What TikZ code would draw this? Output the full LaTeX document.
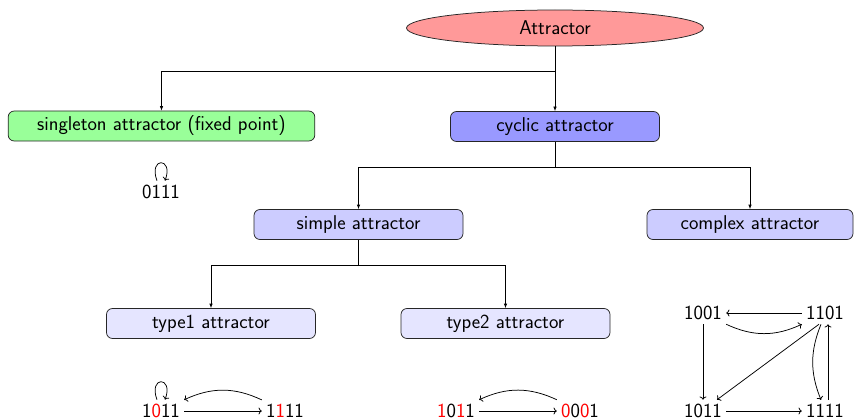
\documentclass[tikz,border=0pt]{standalone}
\usepackage{fontspec}
\usetikzlibrary{arrows.meta,shapes.geometric}
\begin{document}
\begin{tikzpicture}[x=1pt,y=1pt,
  font=\sffamily\fontsize{20}{24}\selectfont,
  line width=0.75pt,
  box/.style={draw=black!85, rounded corners=6pt, minimum height=30pt,
    minimum width=209pt, inner xsep=29pt, inner ysep=0pt},
  tree/.style={-{Latex[length=4.5pt,width=3.5pt]}},
  num/.style={inner sep=4pt},
  edge/.style={->},
]
\useasboundingbox (0,0) rectangle (855,-420);

% hierarchy of attractor kinds
\node[ellipse, draw=black!85, fill=red!40, minimum width=297pt,
      minimum height=36pt, inner sep=0pt] (attr) at (555,-28) {Attractor};
\node[box, fill=green!40] (single) at (161.5,-126) {singleton attractor (fixed point)};
\node[box, fill=blue!40] (cyc) at (555,-126.5) {cyclic attractor};
\node[box, fill=blue!20] (simple) at (358.5,-224.5) {simple attractor};
\node[box, fill=blue!20, minimum width=206pt] (complex) at (750,-224.5) {complex attractor};
\node[box, fill=blue!10] (type1) at (211,-323.5) {type1 attractor};
\node[box, fill=blue!10] (type2) at (505.5,-323.5) {type2 attractor};

\coordinate (j1) at (555,-71);
\coordinate (j2) at (555,-167);
\coordinate (j3) at (358.5,-265);

\draw (attr.south) -- (j1);
\draw[tree] (j1) -| (single.north);
\draw[tree] (j1) -- (cyc.north);
\draw (cyc.south) -- (j2);
\draw[tree] (j2) -| (simple.north);
\draw[tree] (j2) -| (complex.north);
\draw (simple.south) -- (j3);
\draw[tree] (j3) -| (type1.north);
\draw[tree] (j3) -| (type2.north);

% singleton: fixed point
\node[num] (s1) at (161,-192) {0111};
\draw[edge] ([xshift=-4pt]s1.north) .. controls +(-9,24) and +(9,24) .. ([xshift=4pt]s1.north);

% type1 example
\node[num] (a1) at (161,-411) {1\textcolor{red}{0}11};
\node[num] (a2) at (285,-411) {1\textcolor{red}{1}11};
\draw[edge] ([xshift=-4pt]a1.north) .. controls +(-9,24) and +(9,24) .. ([xshift=4pt]a1.north);
\draw[edge] (a1.east) -- (a2.west);
\draw[edge] (a2.north west) to[bend right=25] (a1.north east);

% type2 example
\node[num] (b1) at (456,-411) {\textcolor{red}{1}0\textcolor{red}{1}1};
\node[num] (b2) at (580,-411) {\textcolor{red}{0}0\textcolor{red}{0}1};
\draw[edge] (b1.east) -- (b2.west);
\draw[edge] (b2.north west) to[bend right=25] (b1.north east);

% complex example
\node[num] (c1) at (703,-313) {1001};
\node[num] (c2) at (825,-313) {1101};
\node[num] (c3) at (703,-411) {1011};
\node[num] (c4) at (825,-411) {1111};
\draw[edge] (c2.west) -- (c1.east);
\draw[edge] (c1.south east) to[bend right=25] (c2.south west);
\draw[edge] ([xshift=-6pt]c2.south) -- ([xshift=14pt]c3.north);
\draw[edge] ([xshift=-4pt]c2.south) to[bend right=22] ([xshift=-4pt]c4.north);
\draw[edge] ([xshift=3pt]c4.north) -- ([xshift=3pt]c2.south);
\draw[edge] (c1.south) -- (c3.north);
\draw[edge] (c3.east) -- (c4.west);
\end{tikzpicture}
\end{document}
